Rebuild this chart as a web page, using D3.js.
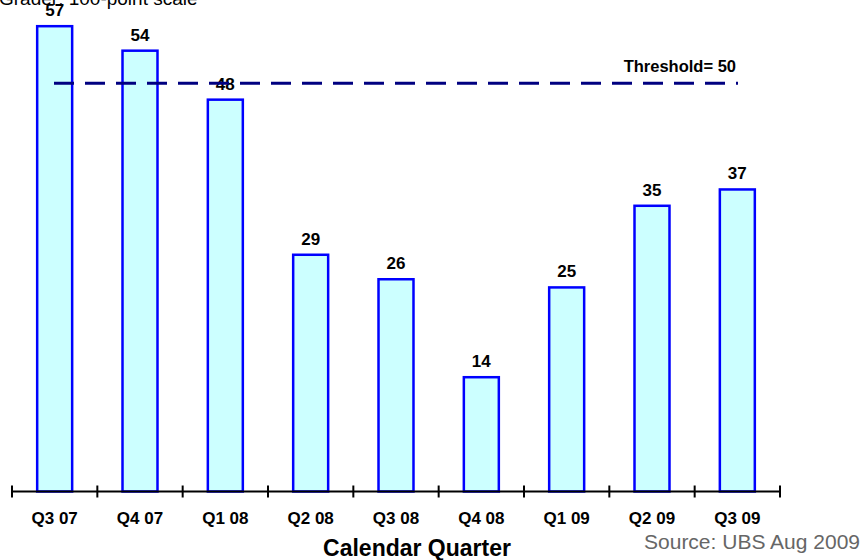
<!DOCTYPE html>
<html>
<head>
<meta charset="utf-8">
<script src="https://cdn.jsdelivr.net/npm/d3@7"></script>
<style>
  html, body { margin: 0; padding: 0; background: #fff; }
  svg { display: block; font-family: "Liberation Sans", Arial, sans-serif; }
</style>
</head>
<body>
<svg id="chart" width="863" height="560"></svg>
<script>
// Quarterly index readings
const quarters = ["Q3 07", "Q4 07", "Q1 08", "Q2 08", "Q3 08", "Q4 08", "Q1 09", "Q2 09", "Q3 09"];
const values = [57, 54, 48, 29, 26, 14, 25, 35, 37];
const threshold = 50;
const yDomain = [0, 60];

const svg = d3.select("#chart");

const x = d3.scaleBand().domain(quarters).range([12, 780]).paddingInner(0.59).paddingOuter(0.295);
const y = d3.scaleLinear().domain(yDomain).range([491.5, 1.7]);

// Subtitle, partly clipped at the top edge
svg.append("text")
  .attr("x", -1).attr("y", 4.5)
  .attr("font-size", 19).attr("fill", "#000")
  .text("Grader: 100-point scale");

// Bars
svg.append("g").selectAll("rect").data(values).join("rect")
  .attr("x", (d, i) => x(quarters[i]))
  .attr("y", d => y(d))
  .attr("width", x.bandwidth())
  .attr("height", d => y(0) - y(d))
  .attr("fill", "#ccffff")
  .attr("stroke", "#0000ff")
  .attr("stroke-width", 2.5);

// Value labels
svg.append("g").selectAll("text").data(values).join("text")
  .attr("x", (d, i) => x(quarters[i]) + x.bandwidth() / 2)
  .attr("y", d => y(d) - 10)
  .attr("text-anchor", "middle")
  .attr("font-size", 17).attr("font-weight", "bold")
  .text(d => d);

// Threshold line
svg.append("line")
  .attr("x1", 54).attr("x2", 738)
  .attr("y1", y(threshold)).attr("y2", y(threshold))
  .attr("stroke", "#000080").attr("stroke-width", 3)
  .attr("stroke-dasharray", "20,11");

svg.append("text")
  .attr("x", 736).attr("y", 71.5)
  .attr("text-anchor", "end")
  .attr("font-size", 16.5).attr("font-weight", "bold")
  .text("Threshold= " + threshold);

// X axis with ticks at band boundaries
const axisG = svg.append("g");
axisG.append("line")
  .attr("x1", 12).attr("x2", 780)
  .attr("y1", y(0)).attr("y2", y(0))
  .attr("stroke", "#000").attr("stroke-width", 2);
const boundaries = d3.range(quarters.length + 1).map(i => 12 + i * (768 / quarters.length));
axisG.selectAll("line.tick").data(boundaries).join("line")
  .attr("class", "tick")
  .attr("x1", d => d).attr("x2", d => d)
  .attr("y1", y(0) - 6).attr("y2", y(0) + 6)
  .attr("stroke", "#000").attr("stroke-width", 2);
axisG.selectAll("text").data(quarters).join("text")
  .attr("x", d => x(d) + x.bandwidth() / 2)
  .attr("y", 524)
  .attr("text-anchor", "middle")
  .attr("font-size", 17).attr("font-weight", "bold")
  .text(d => d);

// Axis title
svg.append("text")
  .attr("x", 417).attr("y", 556)
  .attr("text-anchor", "middle")
  .attr("font-size", 23).attr("font-weight", "bold")
  .text("Calendar Quarter");

// Source note
svg.append("text")
  .attr("x", 860).attr("y", 549)
  .attr("text-anchor", "end")
  .attr("font-size", 21).attr("fill", "#666")
  .text("Source: UBS Aug 2009");
</script>
</body>
</html>
